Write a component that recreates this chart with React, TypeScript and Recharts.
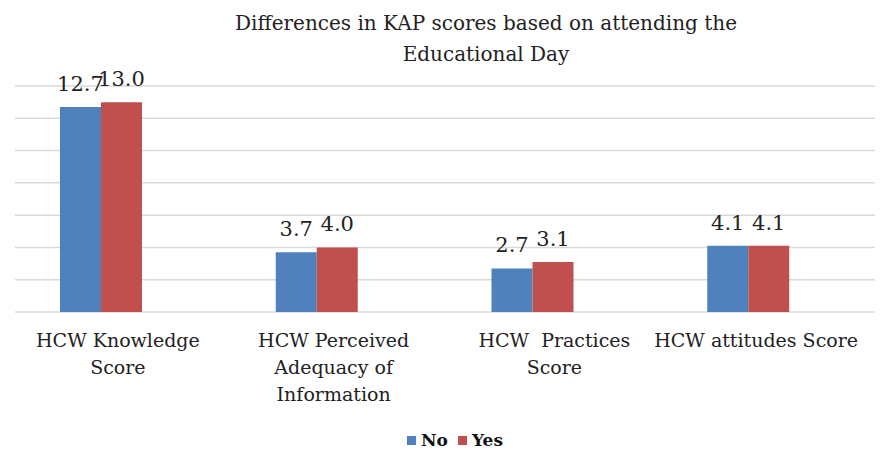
import React from 'react';
import { BarChart, Bar, XAxis, YAxis, CartesianGrid, Legend, LabelList } from 'recharts';

const categories = [
    'HCW Knowledge|Score',
    'HCW Perceived|Adequacy of|Information',
    'HCW  Practices|Score',
    'HCW attitudes Score',
];
const noScores = [12.7, 3.7, 2.7, 4.1];
const yesScores = [13.0, 4.0, 3.1, 4.1];
const yTicks = [0, 2, 4, 6, 8, 10, 12, 14];

const data = categories.map((name, i) => ({ name, No: noScores[i], Yes: yesScores[i] }));

const FONT = 'DejaVu Serif';
const BLUE = '#4f81bd';
const RED = '#c0504d';

const CategoryTick = (props: any) => {
    const { x, y, payload } = props;
    const lines: string[] = String(payload.value).split('|');
    // labels in the original sit a little right of the bar pairs
    const shift = lines.length === 1 ? 8 : payload.index === 2 ? 22 : 17;
    return (
        <g transform={`translate(${x + shift},${y})`}>
            <text textAnchor="middle" style={{ fontFamily: FONT, fontSize: 19, whiteSpace: 'pre' }} fill="#222">
                {lines.map((line, i) => (
                    <tspan key={i} x={0} y={35 + i * 27}>{line}</tspan>
                ))}
            </text>
        </g>
    );
};

const LegendContent = () => (
    <div style={{ display: 'flex', justifyContent: 'center', fontFamily: FONT, fontSize: 17, fontWeight: 'bold', color: '#111', paddingLeft: 40 }}>
        {[{ label: 'No', color: BLUE }, { label: 'Yes', color: RED }].map(item => (
            <span key={item.label} style={{ display: 'inline-flex', alignItems: 'center', marginRight: 10 }}>
                <span style={{ display: 'inline-block', width: 9, height: 9, background: item.color, marginRight: 5 }} />
                {item.label}
            </span>
        ))}
    </div>
);

const App: React.FC = () => {
    return (
        <div style={{ position: 'absolute', left: 0, top: 0, width: 880, height: 455, background: '#fff' }}>
            <div style={{ position: 'absolute', left: 46, top: 8, width: 880, textAlign: 'center', fontFamily: FONT, fontSize: 20, lineHeight: '31px', color: '#222' }}>
                Differences in KAP scores based on attending the<br />Educational Day
            </div>
            <BarChart width={880} height={455} data={data} margin={{ top: 86, right: 24, bottom: 83, left: -7 }} barGap={0} barSize={41}>
                <CartesianGrid vertical={false} stroke="#d9d9d9" strokeWidth={1.5} x={15} width={860} />
                <YAxis hide domain={[0, 14]} ticks={yTicks} />
                <XAxis dataKey="name" axisLine={false} tickLine={false} tickSize={0} tickMargin={0} height={60} interval={0} tick={<CategoryTick />} />
                <Legend layout="horizontal" verticalAlign="middle" align="center" wrapperStyle={{ top: 430, left: 0, width: 880 }} content={<LegendContent />} />
                <Bar dataKey="No" fill={BLUE} isAnimationActive={false}>
                    <LabelList dataKey="No" position="top" offset={16} formatter={(v: any) => Number(v).toFixed(1)} style={{ fontFamily: FONT, fontSize: 21 }} fill="#222" />
                </Bar>
                <Bar dataKey="Yes" fill={RED} isAnimationActive={false}>
                    <LabelList dataKey="Yes" position="top" offset={16} formatter={(v: any) => Number(v).toFixed(1)} style={{ fontFamily: FONT, fontSize: 21 }} fill="#222" />
                </Bar>
            </BarChart>
        </div>
    );
};

export default App;
